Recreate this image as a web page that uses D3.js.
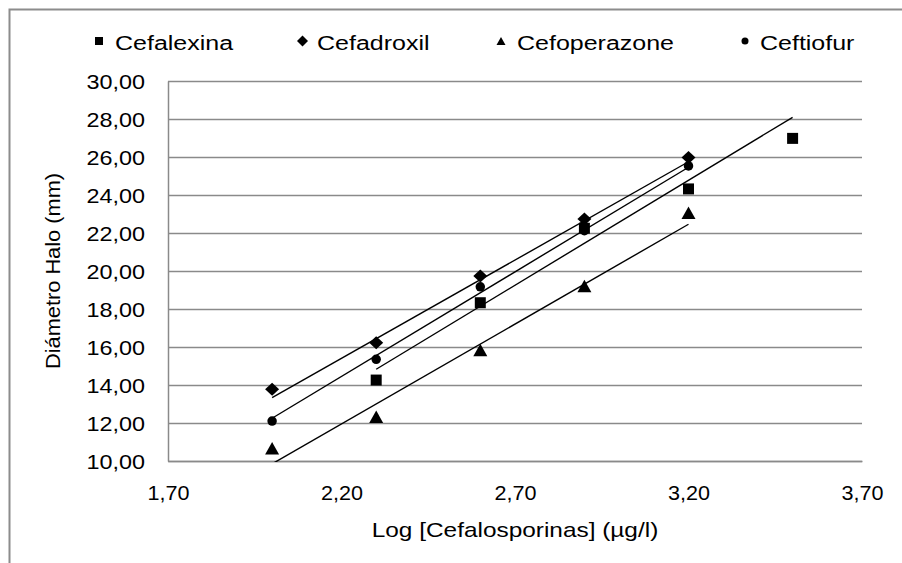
<!DOCTYPE html>
<html>
<head>
<meta charset="utf-8">
<script src="https://cdn.jsdelivr.net/npm/d3@7"></script>
<style>
  html, body { margin: 0; padding: 0; background: #fff; }
  svg { display: block; font-family: "Liberation Sans", Arial, sans-serif; }
</style>
</head>
<body>
<svg id="chart" width="902" height="563"></svg>
<script>
// ---- data ----
const seriesNames = ["Cefalexina", "Cefadroxil", "Cefoperazone", "Ceftiofur"];
const xLog = [2.00, 2.30, 2.60, 2.90, 3.20, 3.50];
const cefalexina   = [null, 14.26, 18.33, 22.25, 24.32, 26.98];
const cefadroxil   = [13.77, 16.23, 19.74, 22.74, 25.98, null];
const cefoperazone = [10.67, 12.33, 15.84, 19.21, 23.07, null];
const ceftiofur    = [12.10, 15.35, 19.17, 22.12, 25.53, null];
// linear trend lines (start / end) per series
const trendFromX = [2.30, 2.00, 2.00, 2.00];
const trendToX   = [3.50, 3.20, 3.20, 3.20];
const trendFromY = [14.83, 13.33, 9.85, 12.25];
const trendToY   = [28.09, 25.75, 22.46, 25.46];
const xTicks = [1.70, 2.20, 2.70, 3.20, 3.70];
const yTicks = [10, 12, 14, 16, 18, 20, 22, 24, 26, 28, 30];
const xTitle = "Log [Cefalosporinas] (µg/l)";
const yTitle = "Diámetro Halo (mm)";

const seriesValues = [cefalexina, cefadroxil, cefoperazone, ceftiofur];
const markerKinds = ["square", "diamond", "triangle", "circle"];

// ---- layout ----
const svg = d3.select("#chart");
const pLeft = 168, pRight = 862, pTop = 81, pBottom = 461;
const x = d3.scaleLinear().domain([1.70, 3.70]).range([pLeft, pRight]);
const y = d3.scaleLinear().domain([10, 30]).range([pBottom, pTop]);
const fmt = v => d3.format(".2f")(v).replace(".", ",");
const gridColor = "#8a8a8a";

// outer frame (cropped chart area border)
svg.append("rect")
  .attr("x", 9.5).attr("y", 9.5).attr("width", 1000).attr("height", 1000)
  .attr("fill", "none").attr("stroke", "#8c8c8c").attr("stroke-width", 2);

// y axis with gridlines
const gy = svg.append("g").attr("transform", `translate(${pLeft},0)`)
  .call(d3.axisLeft(y).tickValues(yTicks).tickFormat(fmt)
    .tickSize(-(pRight - pLeft)).tickSizeOuter(0));
gy.select(".domain").attr("stroke", gridColor).attr("stroke-width", 1.5);
gy.selectAll(".tick line").attr("stroke", gridColor).attr("stroke-width", 1.5);
gy.selectAll(".tick text")
  .attr("x", 0).attr("dy", "0.35em")
  .attr("transform", "translate(-23,0) scale(1.17,1)")
  .attr("font-size", 20).attr("fill", "#000")
  .attr("font-family", "Liberation Sans, Arial, sans-serif");

// x axis
const gx = svg.append("g").attr("transform", `translate(0,${pBottom})`)
  .call(d3.axisBottom(x).tickValues(xTicks).tickFormat(fmt).tickSize(0));
gx.select(".domain").attr("stroke", gridColor).attr("stroke-width", 1.5);
gx.selectAll(".tick text")
  .attr("y", 0).attr("dy", 0)
  .attr("transform", "translate(0,39) scale(1.08,1)")
  .attr("font-size", 20).attr("fill", "#000")
  .attr("font-family", "Liberation Sans, Arial, sans-serif");

// axis titles
svg.append("text")
  .attr("transform", `translate(${(pLeft + pRight) / 2},537) scale(1.22,1)`)
  .attr("text-anchor", "middle").attr("font-size", 20).attr("fill", "#000")
  .text(xTitle);
svg.append("text")
  .attr("transform", `translate(60,${(pTop + pBottom) / 2}) rotate(-90) scale(1.09,1)`)
  .attr("text-anchor", "middle").attr("font-size", 20).attr("fill", "#000")
  .text(yTitle);

// clip for trend lines
svg.append("clipPath").attr("id", "plotclip")
  .append("rect").attr("x", pLeft).attr("y", pTop - 40)
  .attr("width", pRight - pLeft).attr("height", pBottom - pTop + 41);

// trend lines
const trendG = svg.append("g").attr("clip-path", "url(#plotclip)");
seriesNames.forEach((name, i) => {
  const pts = [[trendFromX[i], trendFromY[i]], [trendToX[i], trendToY[i]]];
  trendG.append("path")
    .attr("d", d3.line().x(d => x(d[0])).y(d => y(d[1]))(pts))
    .attr("stroke", "#000").attr("stroke-width", 1.4).attr("fill", "none");
});

// marker path generator (centered on the point)
function markerPath(kind, s) {
  const p = d3.path();
  if (kind === "square") {
    p.rect(-s.w / 2, -s.h / 2, s.w, s.h);
  } else if (kind === "diamond") {
    p.moveTo(0, -s.h / 2); p.lineTo(s.w / 2, 0); p.lineTo(0, s.h / 2); p.lineTo(-s.w / 2, 0); p.closePath();
  } else if (kind === "triangle") {
    p.moveTo(0, -s.h / 2); p.lineTo(s.w / 2, s.h / 2); p.lineTo(-s.w / 2, s.h / 2); p.closePath();
  } else {
    p.arc(0, 0, s.w / 2, 0, 2 * Math.PI);
  }
  return p.toString();
}
const plotSizes = {
  square: { w: 11, h: 11 }, diamond: { w: 14, h: 13 },
  triangle: { w: 14, h: 12.5 }, circle: { w: 9.5, h: 9.5 }
};
const legendSizes = {
  square: { w: 8, h: 8 }, diamond: { w: 11, h: 11 },
  triangle: { w: 9, h: 8 }, circle: { w: 7, h: 7 }
};

// data markers
seriesValues.forEach((vals, i) => {
  const kind = markerKinds[i];
  const data = xLog.map((xv, j) => ({ x: xv, y: vals[j] })).filter(d => d.y != null);
  svg.append("g").selectAll("path").data(data).join("path")
    .attr("transform", d => `translate(${x(d.x)},${y(d.y)})`)
    .attr("d", markerPath(kind, plotSizes[kind]))
    .attr("fill", "#000");
});

// legend
const legendMarkerX = [99, 302.5, 501, 745];
const legendTextX = [115, 317, 517, 760];
seriesNames.forEach((name, i) => {
  const kind = markerKinds[i];
  svg.append("path")
    .attr("transform", `translate(${legendMarkerX[i]},41)`)
    .attr("d", markerPath(kind, legendSizes[kind]))
    .attr("fill", "#000");
  svg.append("text")
    .attr("transform", `translate(${legendTextX[i]},49.5) scale(1.25,1)`)
    .attr("font-size", 20).attr("fill", "#000")
    .text(name);
});
</script>
</body>
</html>
